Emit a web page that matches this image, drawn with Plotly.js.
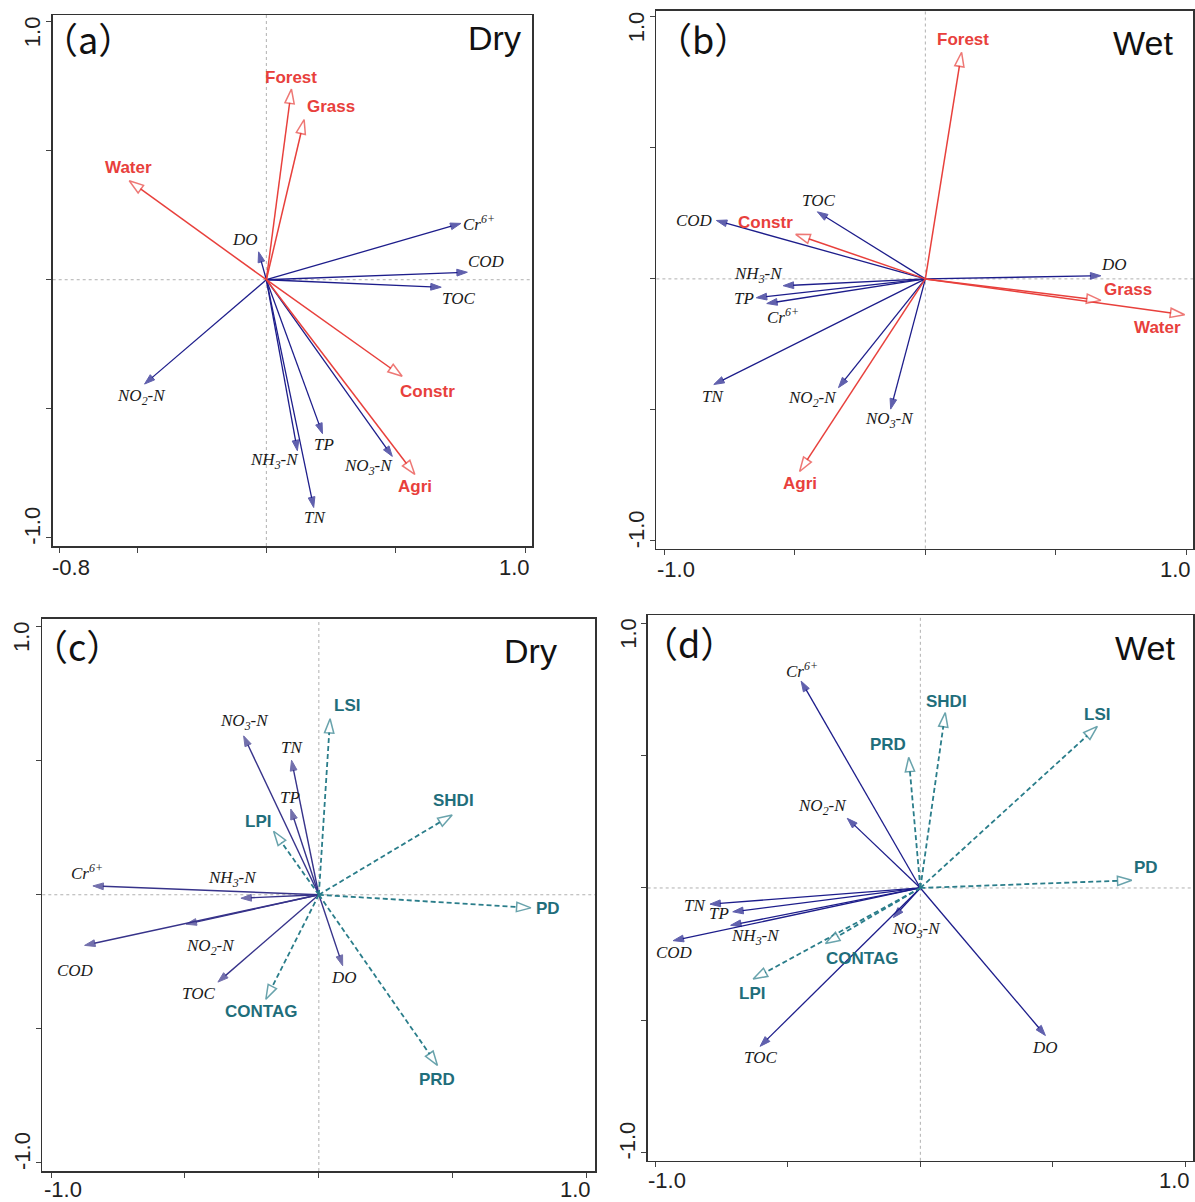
<!DOCTYPE html>
<html><head><meta charset="utf-8">
<script src="https://cdn.plot.ly/plotly-3.0.1.min.js"></script>
<style>html,body{margin:0;padding:0;background:#fff}</style>
</head><body><div id="chart" style="width:1195px;height:1202px"></div>
<script>
// ================= DATA =================
const panelTags = ['（a）', '（b）', '（c）', '（d）'];
const panelSeasons = ['Dry', 'Wet', 'Dry', 'Wet'];

// axis tick values and labelled ticks
const xTickValsA = [-0.8, -0.5, 0, 0.5, 1.0];
const xTickVals = [-1.0, -0.5, 0, 0.5, 1.0];
const yTickVals = [-1.0, -0.5, 0, 0.5, 1.0];
const xLabelValsA = [-0.8, 1.0];
const xLabelTextA = ['-0.8', '1.0'];
const xLabelVals = [-1.0, 1.0];
const xLabelText = ['-1.0', '1.0'];
const yLabelVals = [1.0, -1.0];
const yLabelText = ['1.0', '-1.0'];

// (a) Dry season: land-use vectors
const aEnvNames = ['Forest', 'Grass', 'Water', 'Constr', 'Agri'];
const aEnvX = [0.097, 0.146, -0.530, 0.525, 0.574];
const aEnvY = [0.738, 0.620, 0.383, -0.374, -0.754];
// (a) water-quality vectors
const aSpNames = ['Cr6+', 'COD', 'TOC', 'DO', 'NO2-N', 'TP', 'NH3-N', 'TN', 'NO3-N'];
const aSpX = [0.752, 0.777, 0.676, -0.030, -0.471, 0.217, 0.120, 0.183, 0.487];
const aSpY = [0.218, 0.029, -0.029, 0.108, -0.404, -0.596, -0.662, -0.882, -0.684];

// (b) Wet season: land-use vectors
const bEnvNames = ['Forest', 'Constr', 'Grass', 'Water', 'Agri'];
const bEnvX = [0.139, -0.497, 0.673, 0.994, -0.482];
const bEnvY = [0.865, 0.170, -0.082, -0.137, -0.735];
// (b) water-quality vectors
const bSpNames = ['TOC', 'COD', 'DO', 'NH3-N', 'TP', 'Cr6+', 'TN', 'NO2-N', 'NO3-N'];
const bSpX = [-0.414, -0.801, 0.673, -0.545, -0.648, -0.608, -0.811, -0.333, -0.133];
const bSpY = [0.256, 0.223, 0.012, -0.026, -0.072, -0.094, -0.403, -0.415, -0.497];

// (c) Dry season: water-quality vectors
const cSpNames = ['NO3-N', 'TN', 'TP', 'Cr6+', 'NH3-N', 'NO2-N', 'COD', 'TOC', 'DO'];
const cSpX = [-0.281, -0.102, -0.105, -0.844, -0.291, -0.496, -0.875, -0.377, 0.089];
const cSpY = [0.593, 0.502, 0.320, 0.033, -0.013, -0.110, -0.189, -0.326, -0.265];
// (c) landscape-metric vectors
const cLsNames = ['LSI', 'SHDI', 'LPI', 'PD', 'CONTAG', 'PRD'];
const cLsX = [0.042, 0.498, -0.169, 0.792, -0.198, 0.443];
const cLsY = [0.657, 0.298, 0.237, -0.049, -0.390, -0.637];

// (d) Wet season: water-quality vectors
const dSpNames = ['Cr6+', 'NO2-N', 'TN', 'TP', 'NH3-N', 'COD', 'NO3-N', 'TOC', 'DO'];
const dSpX = [-0.450, -0.276, -0.794, -0.708, -0.716, -0.933, -0.102, -0.605, 0.472];
const dSpY = [0.781, 0.263, -0.061, -0.090, -0.141, -0.199, -0.112, -0.598, -0.557];
// (d) landscape-metric vectors
const dLsNames = ['SHDI', 'LSI', 'PRD', 'PD', 'CONTAG', 'LPI'];
const dLsX = [0.094, 0.668, -0.044, 0.798, -0.358, -0.631];
const dLsY = [0.662, 0.610, 0.493, 0.029, -0.210, -0.344];

// ================= LAYOUT / STYLE =================
// label offsets from arrow tips, in px [dx, dy(down)]
const aEnvOff = [[0,-12],[27,-13],[-1,-13],[25,15],[0,12]];
const aSpOff = [[18,0],[19,-11],[17,11],[-14,-12],[-3,13],[2,11],[-23,10],[1,10],[-24,11]];
const bEnvOff = [[1.5,-13],[-30,-12],[27,-11],[-27,12.5],[0,12.5]];
const bSpOff = [[1,-11],[-22,0],[13,-11],[-25,-10.5],[-12.5,1],[16,12.5],[-1,12],[-26,11],[-1,11]];
const cSpOff = [[1,-14],[0,-13],[-1,-12],[-6,-13.5],[-8.5,-19],[24,23],[-9,25],[-19,11.5],[1,12]];
const cLsOff = [[16.5,-13.5],[1,-14],[-16,-10],[17,1],[-5,12],[0,14.5]];
const dSpOff = [[1,-11.5],[-25,-11],[-15,1],[-13.5,2],[25,12],[1,11.5],[23,12.7],[0,11.5],[0,11.5]];
const dLsOff = [[1,-11.5],[0,-12],[-21,-12.7],[14,-12.7],[36.5,15],[-1,14]];

const W = 1195, H = 1202;
const boxes = [
  {l: 52.7, r: 532, t: 15, b: 546},
  {l: 656.4, r: 1193, t: 10.6, b: 548.5},
  {l: 42.3, r: 595.4, t: 618.5, b: 1171},
  {l: 647.7, r: 1193, t: 615.4, b: 1160.8}
];
const xRanges = [[-0.826, 1.027], [-1.031, 1.026], [-1.033, 1.033], [-1.029, 1.029]];
const yRanges = [[-1.031, 1.025], [-1.029, 1.024], [-1.031, 1.031], [-1.030, 1.029]];
const tagPos = [[35, 23], [47, 27], [35, 26], [41, 27]];
const seasonPos = [[-38, 23], [-50, 32], [-65, 32], [-48, 33]];
const xLabelDrop = [21, 21, 18, 20];

const RED = '#e8403c', BLUE = '#1d1d8b', BLUE_C = '#37338a', TEAL = '#2a7d8a', TEAL_T = '#1f6e7b';
const SERIF = 'Liberation Serif, Times New Roman, serif';
const SANS = 'Liberation Sans, Arial, sans-serif';
const CJK = '"Noto Sans CJK SC", "Noto Sans CJK JP", sans-serif';

function fmt(n) {
  return n.replace('Cr6+', 'Cr<sup>6+</sup>')
          .replace(/^(N[OH])(\d)/, '$1<sub>$2</sub>');
}

const traces = [];
const annotations = [];
const shapes = [];
const layout = {
  width: W, height: H, margin: {l: 0, r: 0, t: 0, b: 0},
  paper_bgcolor: '#fff', plot_bgcolor: '#fff', showlegend: false
};

function arrowTrace(xs, ys, k, st) {
  const x = [], y = [], sz = [];
  xs.forEach((v, i) => { x.push(0, v, null); y.push(0, ys[i], null); sz.push(0, st.size, 0); });
  traces.push({
    type: 'scatter', mode: 'lines+markers', x, y,
    xaxis: 'x' + (k === 0 ? '' : k + 1), yaxis: 'y' + (k === 0 ? '' : k + 1),
    hoverinfo: 'skip', cliponaxis: false,
    line: {color: st.color, width: st.width, dash: st.dash || 'solid'},
    marker: {symbol: 'arrow', size: sz, angleref: 'previous', color: st.fill,
             line: {color: st.color, width: st.mlw}}
  });
}

function labels(names, xs, ys, offs, k, font, bold) {
  const xr = 'x' + (k === 0 ? '' : k + 1), yr = 'y' + (k === 0 ? '' : k + 1);
  names.forEach((n, i) => {
    annotations.push({
      xref: xr, yref: yr, x: xs[i], y: ys[i], xshift: offs[i][0], yshift: -offs[i][1],
      text: bold ? n : fmt(n), showarrow: false, xanchor: 'center', yanchor: 'middle', font
    });
  });
}

for (let k = 0; k < 4; k++) {
  const bx = boxes[k];
  const sfx = k === 0 ? '' : (k + 1);
  layout['xaxis' + sfx] = {
    domain: [bx.l / W, bx.r / W], range: xRanges[k], anchor: 'y' + sfx,
    tickvals: k === 0 ? xTickValsA : xTickVals, showticklabels: false,
    ticks: 'outside', ticklen: 5, tickwidth: 1, tickcolor: '#444',
    showline: true, mirror: true, linecolor: '#333', linewidth: 1.5,
    showgrid: false, zeroline: false, fixedrange: true
  };
  layout['yaxis' + sfx] = {
    domain: [1 - bx.b / H, 1 - bx.t / H], range: yRanges[k], anchor: 'x' + sfx,
    tickvals: yTickVals, showticklabels: false,
    ticks: 'outside', ticklen: 5, tickwidth: 1, tickcolor: '#444',
    showline: true, mirror: true, linecolor: '#333', linewidth: 1.5,
    showgrid: false, zeroline: false, fixedrange: true
  };
  // dotted zero lines
  shapes.push({type: 'line', xref: 'x' + sfx, yref: 'y' + sfx + ' domain', x0: 0, x1: 0, y0: 0, y1: 1,
               line: {color: '#b0b0b0', width: 1, dash: 'dot'}, layer: 'below'});
  shapes.push({type: 'line', xref: 'x' + sfx + ' domain', yref: 'y' + sfx, x0: 0, x1: 1, y0: 0, y1: 0,
               line: {color: '#b0b0b0', width: 1, dash: 'dot'}, layer: 'below'});
  // tick labels
  const lv = k === 0 ? xLabelValsA : xLabelVals, lt = k === 0 ? xLabelTextA : xLabelText;
  lv.forEach((v, i) => annotations.push({
    xref: 'x' + sfx, yref: 'y' + sfx + ' domain', x: v, y: 0, yshift: -xLabelDrop[k], xshift: i === 0 ? 12 : -11,
    text: lt[i], showarrow: false, xanchor: 'center', yanchor: 'middle',
    font: {family: SANS, size: 22, color: '#222'}
  }));
  yLabelVals.forEach((v, i) => annotations.push({
    xref: 'x' + sfx + ' domain', yref: 'y' + sfx, x: 0, y: v, xshift: -20, yshift: i === 0 ? -10 : 12,
    text: yLabelText[i], textangle: -90, showarrow: false, xanchor: 'center', yanchor: 'middle',
    font: {family: SANS, size: 22, color: '#222'}
  }));
  // panel tag and season
  annotations.push({xref: 'x' + sfx + ' domain', yref: 'y' + sfx + ' domain', x: 0, y: 1,
    xshift: tagPos[k][0], yshift: -tagPos[k][1], text: panelTags[k], showarrow: false,
    xanchor: 'center', yanchor: 'middle', font: {family: CJK, size: 36, color: '#111'}});
  annotations.push({xref: 'x' + sfx + ' domain', yref: 'y' + sfx + ' domain', x: 1, y: 1,
    xshift: seasonPos[k][0], yshift: -seasonPos[k][1], text: panelSeasons[k], showarrow: false,
    xanchor: 'center', yanchor: 'middle', font: {family: SANS, size: 34, color: '#111'}});
}

const spFont = {family: SERIF, size: 17, color: '#1a1a1a', style: 'italic'};
const envFont = {family: SANS, size: 17, color: RED, weight: 'bold'};
const lsFont = {family: SANS, size: 17, color: TEAL_T, weight: 'bold'};

const redSt = {color: RED, width: 1.5, fill: '#fff', mlw: 1.5, size: 15};
const blueSt = {color: BLUE, width: 1.3, fill: BLUE, mlw: 1, size: 11};
const blueCSt = {color: BLUE_C, width: 1.4, fill: BLUE_C, mlw: 1, size: 11};
const tealSt = {color: TEAL, width: 1.8, fill: '#fff', mlw: 1.5, size: 15, dash: '5px,3px'};

// (a)
arrowTrace(aSpX, aSpY, 0, blueSt);
arrowTrace(aEnvX, aEnvY, 0, redSt);
labels(aSpNames, aSpX, aSpY, aSpOff, 0, spFont, false);
labels(aEnvNames, aEnvX, aEnvY, aEnvOff, 0, envFont, true);
// (b)
arrowTrace(bSpX, bSpY, 1, blueSt);
arrowTrace(bEnvX, bEnvY, 1, redSt);
labels(bSpNames, bSpX, bSpY, bSpOff, 1, spFont, false);
labels(bEnvNames, bEnvX, bEnvY, bEnvOff, 1, envFont, true);
// (c)
arrowTrace(cSpX, cSpY, 2, blueCSt);
arrowTrace(cLsX, cLsY, 2, tealSt);
labels(cSpNames, cSpX, cSpY, cSpOff, 2, spFont, false);
labels(cLsNames, cLsX, cLsY, cLsOff, 2, lsFont, true);
// (d)
arrowTrace(dSpX, dSpY, 3, blueSt);
arrowTrace(dLsX, dLsY, 3, tealSt);
labels(dSpNames, dSpX, dSpY, dSpOff, 3, spFont, false);
labels(dLsNames, dLsX, dLsY, dLsOff, 3, lsFont, true);

layout.annotations = annotations;
layout.shapes = shapes;

Plotly.newPlot('chart', traces, layout, {staticPlot: true, displayModeBar: false});
</script>
</body></html>
